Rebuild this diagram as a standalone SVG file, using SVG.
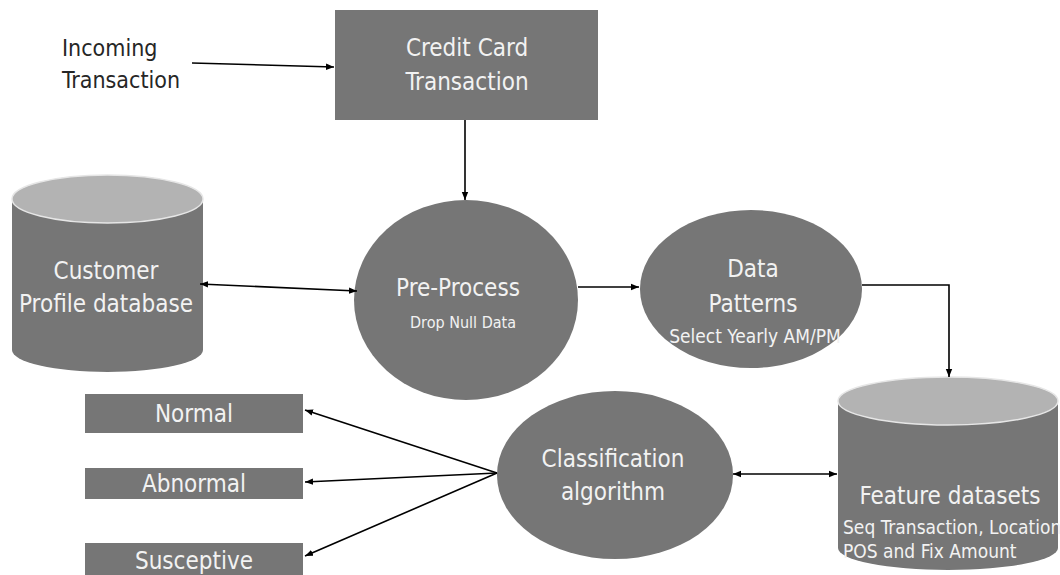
<svg xmlns="http://www.w3.org/2000/svg" width="1060" height="575" viewBox="0 0 1060 575">
<defs>
<style>
.shape{fill:#767676;}
.top{fill:#b3b3b3;stroke:#e6e6e6;stroke-width:1.5;}
.lbl{font-family:"Liberation Sans Narrow","DejaVu Sans Condensed","Liberation Sans",sans-serif;fill:#f2f2f2;text-anchor:middle;}
.big{font-size:24px;}
.small{font-size:16px;}
.dark{fill:#262626;text-anchor:start;font-size:23px;}
.conn{fill:none;stroke:#000;stroke-width:1.6;}
</style>
<marker id="arr" viewBox="0 0 10 10" refX="10" refY="5" markerWidth="8" markerHeight="8" markerUnits="userSpaceOnUse" orient="auto-start-reverse">
<path d="M0,1 L10,5 L0,9 Z" fill="#000"/>
</marker>
</defs>
<rect width="1060" height="575" fill="#fff"/>

<g id="incoming">
<text class="lbl dark" x="62" y="56">Incoming</text>
<text class="lbl dark" x="62" y="88">Transaction</text>
</g>

<g id="credit-card">
<rect class="shape" x="335" y="10" width="263" height="110"/>
<text class="lbl big" x="467" y="56">Credit Card</text>
<text class="lbl big" x="467" y="90">Transaction</text>
</g>

<g id="customer-profile">
<path class="shape" d="M12,199 L12,350 A95.5,22 0 0 0 203,350 L203,199 Z"/>
<ellipse class="top" cx="107.5" cy="199" rx="95.5" ry="24"/>
<text class="lbl big" x="106" y="279">Customer</text>
<text class="lbl big" x="106" y="312">Profile database</text>
</g>

<g id="pre-process">
<ellipse class="shape" cx="466" cy="300" rx="112" ry="100"/>
<text class="lbl big" x="458" y="296">Pre-Process</text>
<text class="lbl small" x="463" y="328">Drop Null Data</text>
</g>

<g id="data-patterns">
<ellipse class="shape" cx="751" cy="289" rx="111" ry="79"/>
<text class="lbl big" x="753" y="277">Data</text>
<text class="lbl big" x="753" y="312">Patterns</text>
<text class="lbl" x="755" y="343" style="font-size:19px">Select Yearly AM/PM</text>
</g>

<g id="feature-datasets">
<path class="shape" d="M838,401 L838,548 A110,22 0 0 0 1058,548 L1058,401 Z"/>
<ellipse class="top" cx="948" cy="401" rx="110" ry="24"/>
<text class="lbl big" x="950" y="504">Feature datasets</text>
<text class="lbl" x="843" y="534" style="text-anchor:start;font-size:19px">Seq Transaction, Location</text>
<text class="lbl" x="843" y="558" style="text-anchor:start;font-size:19px">POS and Fix Amount</text>
</g>

<g id="classification">
<ellipse class="shape" cx="615" cy="475" rx="118" ry="84"/>
<text class="lbl big" x="613" y="467">Classification</text>
<text class="lbl big" x="613" y="500">algorithm</text>
</g>

<g id="normal">
<rect class="shape" x="85" y="394" width="218" height="39"/>
<text class="lbl big" x="194" y="422">Normal</text>
</g>
<g id="abnormal">
<rect class="shape" x="85" y="468" width="218" height="31"/>
<text class="lbl big" x="194" y="492">Abnormal</text>
</g>
<g id="susceptive">
<rect class="shape" x="85" y="543" width="218" height="40"/>
<text class="lbl big" x="194" y="569">Susceptive</text>
</g>

<g id="connectors">
<line class="conn" x1="192" y1="63" x2="334" y2="67" marker-end="url(#arr)"/>
<line class="conn" x1="465" y1="120" x2="465" y2="200" marker-end="url(#arr)"/>
<line class="conn" x1="200" y1="284" x2="357" y2="291" marker-start="url(#arr)" marker-end="url(#arr)"/>
<line class="conn" x1="578" y1="287" x2="639" y2="287" marker-end="url(#arr)"/>
<polyline class="conn" points="862,285 949,285 949,377" marker-end="url(#arr)"/>
<line class="conn" x1="733" y1="474" x2="837" y2="474" marker-start="url(#arr)" marker-end="url(#arr)"/>
<line class="conn" x1="497" y1="473" x2="305" y2="410" marker-end="url(#arr)"/>
<line class="conn" x1="497" y1="473" x2="305" y2="482" marker-end="url(#arr)"/>
<line class="conn" x1="497" y1="473" x2="305" y2="556" marker-end="url(#arr)"/>
</g>
</svg>
